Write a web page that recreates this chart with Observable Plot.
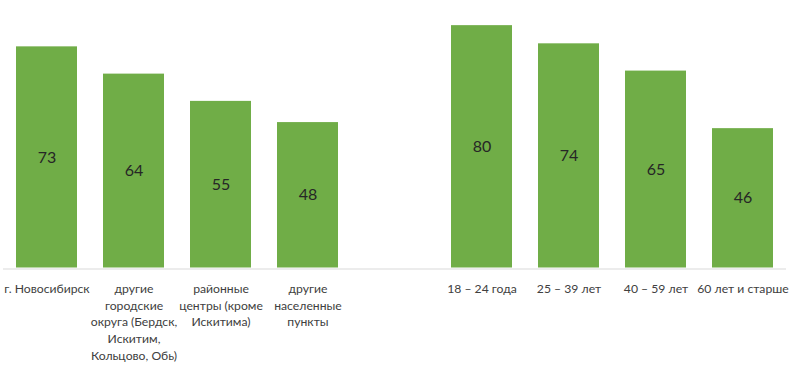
<!DOCTYPE html>
<html>
<head>
<meta charset="utf-8">
<script src="https://cdn.jsdelivr.net/npm/d3@7"></script>
<script src="https://cdn.jsdelivr.net/npm/@observablehq/plot@0.6"></script>
<style>
  html, body { margin: 0; padding: 0; background: #fff; }
  #chart { width: 789px; height: 368px; }
</style>
</head>
<body>
<div id="chart"></div>
<script>
const categories = [
  "г. Новосибирск",
  "другие\nгородские\nокруга (Бердск,\nИскитим,\nКольцово, Обь)",
  "районные\nцентры (кроме\nИскитима)",
  "другие\nнаселенные\nпункты",
  " ",
  "18 – 24 года",
  "25 – 39 лет",
  "40 – 59 лет",
  "60 лет и старше"
];
const values = [73, 64, 55, 48, null, 80, 74, 65, 46];

const data = categories.map((c, i) => ({cat: c, value: values[i]})).filter(d => d.value != null);

const chart = Plot.plot({
  width: 789,
  height: 368,
  marginLeft: 3,
  marginRight: 3,
  marginTop: 0,
  marginBottom: 100.5,
  style: {fontFamily: "Lato, 'Open Sans', sans-serif", background: "#fff"},
  x: {domain: categories, paddingInner: 0.3, paddingOuter: 0.15, label: null},
  y: {domain: [0, 88.3], axis: null},
  marks: [
    Plot.barY(data, {x: "cat", y: "value", fill: "#70ad47"}),
    Plot.ruleY([0], {stroke: "#d9d9d9", strokeWidth: 1, dy: 1}),
    Plot.text(data, {x: "cat", y: d => d.value / 2, text: d => String(d.value), fill: "#262626", fontSize: 16}),
    Plot.axisX({tickSize: 0, tickPadding: 13, fontSize: 12.2, lineHeight: 1.37, fill: "#404040", tickFormat: d => d})
  ]
});
document.getElementById("chart").appendChild(chart);
</script>
</body>
</html>
